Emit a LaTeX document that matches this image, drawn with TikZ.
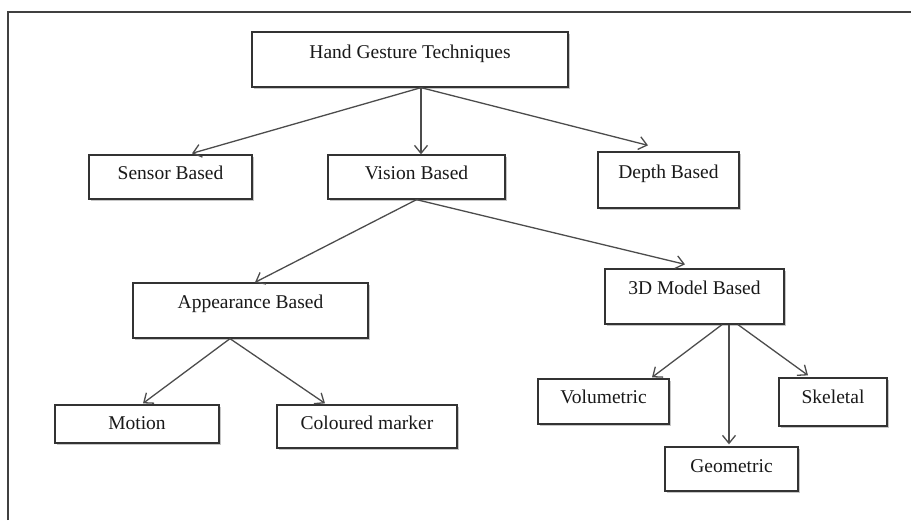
\documentclass[tikz,border=0pt]{standalone}
\usepackage{fontspec}
\setmainfont{Liberation Serif}
\usetikzlibrary{arrows.meta,shadows}
\begin{document}
\begin{tikzpicture}[x=1pt,y=-1pt,
  box/.style={draw=black!80, line width=1.3pt, fill=white, rectangle, inner ysep=0pt, inner xsep=2pt,
     font=\fontsize{19.5}{23}\selectfont, text=black!90,
     drop shadow={shadow xshift=1.8pt, shadow yshift=-1.8pt, opacity=0.45}},
  arr/.style={draw=black!70, line width=1.3pt, -{Straight Barb[length=8pt,width=13pt,line width=1.3pt]}}]
\useasboundingbox (0,0) rectangle (911,520);
\draw[line width=2pt, black!75] (8,520) -- (8,12) -- (911,12);

\node[box, minimum width=316pt, text height=26pt, text depth=29pt] (hgt) at (410,59.5) {Hand Gesture Techniques};
\node[box, minimum width=163pt, text height=24pt, text depth=20pt] (sensor) at (170.5,177) {Sensor Based};
\node[box, minimum width=177pt, text height=24pt, text depth=20pt] (vision) at (416.5,177) {Vision Based};
\node[box, minimum width=141pt, text height=26pt, text depth=30pt] (depth) at (668.5,180) {Depth Based};
\node[box, minimum width=235pt, text height=25pt, text depth=30pt] (appear) at (250.5,310.5) {Appearance Based};
\node[box, minimum width=164pt, text height=24pt, text depth=14pt] (motion) at (137,424) {Motion};
\node[box, minimum width=180pt, text height=24pt, text depth=19pt] (colour) at (367,426.5) {Coloured marker};
\node[box, minimum width=179pt, text height=25pt, text depth=30pt] (model) at (694.5,296.5) {3D Model Based};
\node[box, minimum width=131pt, text height=24pt, text depth=21pt] (volu) at (603.5,401.5) {Volumetric};
\node[box, minimum width=108pt, text height=25pt, text depth=23pt] (skel) at (833,402) {Skeletal};
\node[box, minimum width=133pt, text height=25pt, text depth=19pt] (geom) at (731.5,469) {Geometric};

\draw[arr] ([xshift=11pt]hgt.south) -- ([xshift=21.5pt,yshift=1pt]sensor.north);
\draw[arr] ([xshift=11pt]hgt.south) -- ([xshift=4.5pt]vision.north);
\draw[arr] ([xshift=11pt]hgt.south) -- ([xshift=-20.5pt,yshift=6pt]depth.north);
\draw[arr] (vision.south) -- ([xshift=4.5pt]appear.north);
\draw[arr] (vision.south) -- ([xshift=-9.5pt,yshift=4pt]model.north);
\draw[arr] ([xshift=-20.5pt]appear.south) -- ([xshift=6pt,yshift=1pt]motion.north);
\draw[arr] ([xshift=-20.5pt]appear.south) -- ([xshift=-42pt,yshift=1pt]colour.north);
\draw[arr] ([xshift=27.5pt]model.south) -- ([xshift=48.5pt,yshift=1pt]volu.north);
\draw[arr] ([xshift=34.5pt]model.south) -- ([xshift=-2.5pt,yshift=2pt]geom.north);
\draw[arr] ([xshift=43.5pt]model.south) -- ([xshift=-25pt,yshift=2pt]skel.north);
\end{tikzpicture}
\end{document}
